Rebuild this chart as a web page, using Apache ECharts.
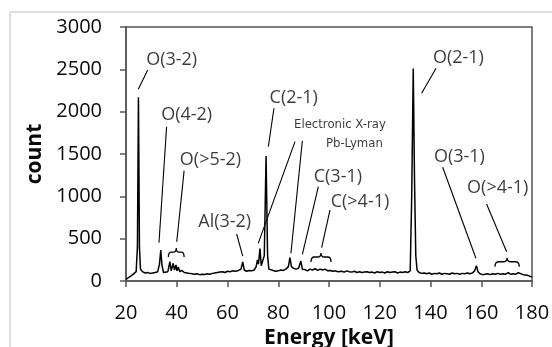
<!DOCTYPE html>
<html><head><meta charset="utf-8">
<script src="https://cdn.jsdelivr.net/npm/echarts@6/dist/echarts.min.js"></script>
<style>html,body{margin:0;padding:0;background:#fff}#c{width:552px;height:347px}</style>
</head><body><div id="c"></div>
<script>
// Spectrum (energy keV, count)
const energy = [20,21,22,23,24,24.5,24.9,25.3,25.7,26.5,27.5,28.5,29.5,30.5,31.5,32.5,33.2,33.7,34.2,34.8,35.5,36.5,37.3,37.8,38.6,39.1,39.7,40.1,40.6,41.2,42,43,44,45,46,47,48,49,50,51,52,53,54,55,56,57,58,59,60,61,62,63,64,65.3,66.0,66.6,67.5,68.5,69.5,70.5,71.3,71.8,72.2,72.8,73.3,73.8,74.5,75.2,75.8,76.3,77,78,79,80,81,82,83,84,84.6,85.2,86,87,88,88.9,89.5,90.5,91.5,92.5,93.5,94.5,95.5,96.5,97.5,98.5,99.5,100.5,101.5,102.5,103.5,105,106,107,108,109,110,111,112,113,114,115,116,117,118,119,120,121,122,123,124,125,126,127,128,129,130,131,132,132.6,133.2,133.7,134.2,134.7,135.5,136.5,137.5,138.5,139.5,140.5,141.5,142.5,143.5,144.5,145.5,146.5,147.5,148.5,149.5,150.5,151.5,152.5,153.5,154.5,155.5,156.5,157.4,158.1,158.7,159.5,160.5,161.5,162.5,163.5,164.5,165.5,166.5,167,167.6,168.5,169.5,170.7,171.5,172.5,173.5,174.6,175.3,176.5,177.5,178.5,179.3,180];
const counts = [20,40,60,85,110,400,2170,400,140,110,95,100,90,95,100,110,200,366,180,100,95,110,228,120,209,130,189,120,165,110,125,100,95,90,85,80,85,75,80,78,85,80,90,95,100,105,110,100,115,110,120,115,120,140,225,130,115,125,120,130,170,250,200,382,180,160,300,1475,300,140,120,125,115,120,130,125,140,170,275,170,150,140,150,236,140,135,120,140,130,145,125,140,130,140,120,125,115,120,110,115,105,120,110,105,115,100,110,100,105,110,100,105,95,110,100,105,95,110,100,105,110,95,105,100,110,100,120,1000,2510,1200,300,130,100,90,95,85,95,80,90,85,95,80,90,85,80,95,85,90,80,90,85,95,85,95,120,180,110,85,75,80,85,75,85,80,90,100,80,85,80,98,80,85,80,98,80,75,70,65,55,45];

const xTickValues = [20,40,60,80,100,120,140,160,180];
const yTickValues = [0,500,1000,1500,2000,2500,3000];

// Annotation texts (data coordinates of text centre)
const labelText = ['O(3-2)','O(4-2)','O(>5-2)','Al(3-2)','C(2-1)','Electronic X-ray','Pb-Lyman','C(3-1)','C(>4-1)','O(2-1)','O(3-1)','O(>4-1)'];
const labelX    = [38.0, 43.9, 53.3, 58.9, 86.1, 104.3, 110.0, 103.5, 112.2, 151.0, 151.4, 166.5];
const labelY    = [2610, 1961, 1429, 700, 2158, 1842, 1626, 1232, 937, 2630, 1468, 1095];
const labelSmall = [false,false,false,false,false,true,true,false,false,false,false,false];

// Arrows: [fromX, fromY, toX, toY]
const arrows = [
  [28.55,2492,24.85,2264],
  [36.0,1822,33.0,452],
  [42.9,1303,40.0,464],
  [63.6,555,66.0,295],
  [78.3,2040,76.1,1586],
  [86.6,1646,72.1,445],
  [89.5,1657,85.0,327],
  [95.8,1114,89.5,315],
  [100.4,839,97.1,393],
  [142.2,2512,136.5,2217],
  [144.8,1343,157.9,268],
  [162.1,909,170.0,346]
];

// Braces: [x1, x2, baseY]
const braces = [
  [36.7,42.9,283],
  [92.9,100.8,225],
  [165.4,175.0,169]
];

const chart = echarts.init(document.getElementById('c'));
const FONT = 'Open Sans';
const TXT = '#0a0a0a';
const option = {
  animation:false,
  backgroundColor:'#fff',
  grid:{left:126,right:20,top:27,bottom:66,containLabel:false,outerBoundsMode:'none',show:true,borderColor:'#555',borderWidth:1.5,backgroundColor:'transparent'},
  graphic:[
    {type:'line',shape:{x1:10,y1:12,x2:552,y2:12},style:{stroke:'#d4d4d4',lineWidth:1.5},silent:true},
    {type:'line',shape:{x1:10,y1:12,x2:10,y2:347},style:{stroke:'#d4d4d4',lineWidth:1.5},silent:true}
  ],
  xAxis:{type:'value',min:20,max:180,interval:20,
    axisLine:{show:true,onZero:false,lineStyle:{color:'#555',width:1.5}},
    axisTick:{show:true,inside:false,length:6,lineStyle:{color:'#555',width:1.5}},
    axisLabel:{fontFamily:FONT,fontSize:20,color:TXT,margin:22,
      formatter:v=>xTickValues.includes(v)?String(v):''},
    splitLine:{show:false},
    name:'Energy [keV]',nameLocation:'middle',nameGap:45,
    nameTextStyle:{fontFamily:FONT,fontSize:21,fontWeight:'bold',color:TXT}},
  yAxis:{type:'value',min:0,max:3000,interval:500,
    axisLine:{show:true,lineStyle:{color:'#555',width:1.5}},
    axisTick:{show:true,inside:false,length:6,lineStyle:{color:'#555',width:1.5}},
    axisLabel:{fontFamily:FONT,fontSize:20,color:TXT,margin:24,
      formatter:v=>yTickValues.includes(v)?String(v):''},
    splitLine:{show:false},
    name:'count',nameLocation:'middle',nameGap:80,nameRotate:90,
    nameTextStyle:{fontFamily:FONT,fontSize:21,fontWeight:'bold',color:TXT}},
  series:[
    {type:'line',data:energy.map((e,i)=>[e,counts[i]]),showSymbol:false,symbol:'none',
      lineStyle:{color:'#000',width:1.5},silent:true,z:3,
      markLine:{silent:true,symbol:['none','arrow'],symbolSize:[0,8],
        label:{show:false},lineStyle:{color:'#000',width:1.1,type:'solid'},
        emphasis:{disabled:true},
        data:arrows.map(a=>[{coord:[a[0],a[1]]},{coord:[a[2],a[3]]}])}},
    {type:'scatter',symbolSize:0,silent:true,z:5,
      data:labelText.map((t,i)=>({name:t,value:[labelX[i],labelY[i]],
        label:labelSmall[i]?{fontSize:13,fontFamily:'DejaVu Sans Condensed'}:{}})),
      label:{show:true,position:'inside',formatter:'{b}',fontFamily:FONT,fontSize:18,color:TXT}},
    {type:'custom',silent:true,z:4,
      data:braces,
      encode:{x:[0,1],y:2},
      renderItem:function(params,api){
        const p1=api.coord([api.value(0),api.value(2)]);
        const p2=api.coord([api.value(1),api.value(2)]);
        const h=9, yb=p1[1], ym=yb-h*0.55, yt=yb-h;
        const x1=p1[0], x2=p2[0], xm=(x1+x2)/2, q=Math.min(4,(xm-x1)/3);
        const d='M'+x1+' '+yb+' Q'+x1+' '+ym+' '+(x1+q)+' '+ym+' L'+(xm-q)+' '+ym+' Q'+xm+' '+ym+' '+xm+' '+yt+
          ' Q'+xm+' '+ym+' '+(xm+q)+' '+ym+' L'+(x2-q)+' '+ym+' Q'+x2+' '+ym+' '+x2+' '+yb;
        return {type:'path',shape:{pathData:d},style:{stroke:'#000',fill:'none',lineWidth:1.3}};
      }}
  ]
};
chart.setOption(option);
</script></body></html>
